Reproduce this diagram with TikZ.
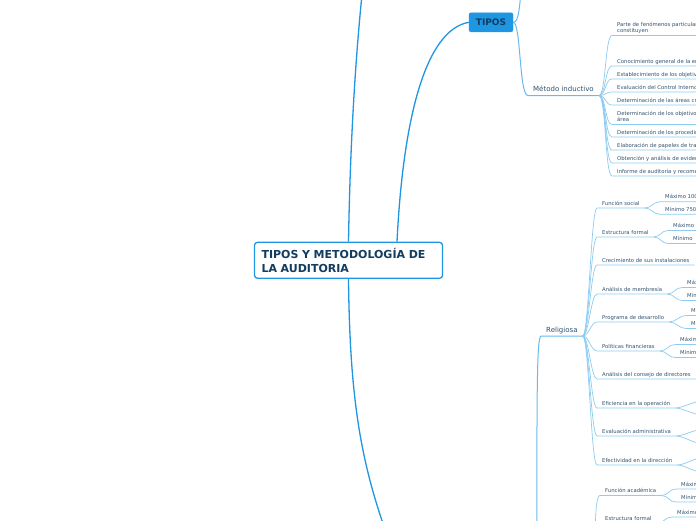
\documentclass[tikz,border=0pt]{standalone}
\usepackage{fontspec}
\setmainfont{DejaVu Sans}
\usepackage{xcolor}
\usepackage{tikz}

\definecolor{mapblue}{RGB}{30,150,226}
\definecolor{branchblue}{RGB}{104,186,238}
\definecolor{linkblue}{RGB}{140,204,242}
\definecolor{titleink}{RGB}{18,60,96}
\definecolor{textink}{RGB}{50,82,112}

\begin{document}
\begin{tikzpicture}[
    x=1pt, y=-1pt,
    root/.style={draw=mapblue,line width=1.3pt,rounded corners=3pt,fill=white,
      minimum width=188pt,minimum height=36pt,text width=174pt,align=left,
      inner sep=0pt,text=titleink,font=\fontsize{11}{14}\selectfont\bfseries},
    typebox/.style={draw=mapblue,fill=mapblue,rounded corners=2pt,
      minimum width=44pt,minimum height=19pt,inner sep=0pt,
      text=titleink,font=\fontsize{9}{10}\selectfont\bfseries},
    topic/.style={anchor=south west,inner xsep=5pt,inner ysep=0pt,text depth=3.8pt,
      text=textink,font=\fontsize{7}{8}\selectfont},
    leaf/.style={anchor=south west,inner xsep=5pt,inner ysep=0pt,text depth=2.6pt,
      align=left,text=textink,font=\fontsize{5.3}{6.2}\selectfont},
    mainline/.style={draw=mapblue,line width=1.3pt},
    branch/.style={draw=branchblue,line width=1pt},
    link/.style={draw=linkblue,line width=0.7pt}
  ]
  \fill[white] (0,0) rectangle (696,520);
  \useasboundingbox (0,0) rectangle (696,520);
  \clip (0,0) rectangle (696,520);

  % main topics
  \node[root] (root) at (348.5,260.3) {TIPOS Y METODOLOGÍA DE\\LA AUDITORIA};
  \node[typebox] (tipos) at (491,22.3) {TIPOS};
  \node[topic] (mi) at (528,95.5) {Método inductivo};
  \node[topic] (rel) at (541,336) {Religiosa};

  % metodo inductivo
  \node[leaf] (m1)  at (612,35.5)  {Parte de fenómenos particulares\\constituyen};
  \node[leaf] (m2)  at (612,66)    {Conocimiento general de la entidad};
  \node[leaf] (m3)  at (612,79)    {Establecimiento de los objetivos};
  \node[leaf] (m4)  at (612,92)    {Evaluación del Control Interno};
  \node[leaf] (m5)  at (612,105)   {Determinación de las áreas críticas};
  \node[leaf] (m6)  at (612,124.5) {Determinación de los objetivos\\área};
  \node[leaf] (m7)  at (612,137)   {Determinación de los procedimientos};
  \node[leaf] (m8)  at (612,150)   {Elaboración de papeles de trabajo};
  \node[leaf] (m9)  at (612,163)   {Obtención y análisis de evidencias};
  \node[leaf] (m10) at (612,176)   {Informe de auditoría y recomendaciones};

  % religiosa
  \node[leaf] (r1)  at (597,208) {Función social};
  \node[leaf] (r2)  at (597,237) {Estructura formal};
  \node[leaf] (r3)  at (597,265) {Crecimiento de sus instalaciones};
  \node[leaf] (r4)  at (597,294) {Análisis de membresía};
  \node[leaf] (r5)  at (597,322) {Programa de desarrollo};
  \node[leaf] (r6)  at (597,351) {Políticas financieras};
  \node[leaf] (r7)  at (597,379) {Análisis del consejo de directores};
  \node[leaf] (r8)  at (597,408) {Eficiencia en la operación};
  \node[leaf] (r9)  at (597,436) {Evaluación administrativa};
  \node[leaf] (r10) at (597,465) {Efectividad en la dirección};

  \node[leaf] (r1a) at (660,201.7) {Máximo 100};
  \node[leaf] (r1b) at (660,214.3) {Mínimo 750};
  \node[leaf] (r2a) at (668,230.5) {Máximo};
  \node[leaf] (r2b) at (668,243.5) {Mínimo};
  \node[leaf] (r4a) at (682,287.5) {Máximo};
  \node[leaf] (r4b) at (682,300.5) {Mínimo};
  \node[leaf] (r5a) at (686,315.5) {Máximo};
  \node[leaf] (r5b) at (686,328.5) {Mínimo};
  \node[leaf] (r6a) at (675,344.5) {Máximo};
  \node[leaf] (r6b) at (675,357.5) {Mínimo};
  \coordinate (r8a)  at (700,401.5);
  \coordinate (r8b)  at (700,414.5);
  \coordinate (r9a)  at (700,430);
  \coordinate (r9b)  at (700,443);
  \coordinate (r10a) at (700,458.5);
  \coordinate (r10b) at (700,471.5);

  % lower group
  \node[leaf] (fa)  at (600,495.5) {Función académica};
  \node[leaf] (fa1) at (676,489)   {Máximo};
  \node[leaf] (fa2) at (676,502)   {Mínimo};
  \node[leaf] (ef)  at (600,523.5) {Estructura formal};
  \node[leaf] (ef1) at (672,517)   {Máximo};

  % off-page ends
  \coordinate (upper)  at (363,-15);
  \coordinate (lower)  at (400,570);
  \coordinate (tipsup) at (522,-15);
  \coordinate (relsrc) at (537,620);
  \coordinate (unisrc) at (595,620);

  % connectors
  \draw[mainline] (root.north) .. controls (350,150) and (355,60) .. (upper);
  \draw[mainline] ([xshift=48.5pt]root.north) .. controls (403,120) and (425,30) .. (tipos.west);
  \draw[mainline] (root.south) .. controls (350,420) and (365,480) .. (lower);

  \draw[branch] (tipos.east) .. controls (519,22.3) and (519,8) .. (tipsup);
  \draw[branch] (tipos.east) .. controls (521,22.3) and (519,95.5) .. (mi.south west) -- (mi.south east);
  \draw[branch] (relsrc) .. controls (537,420) and (536,336) .. (rel.south west) -- (rel.south east);

  \foreach \i in {1,...,10}
    \draw[link] (mi.south east) .. controls +(7,0) and +(-7,0) .. (m\i.south west) -- (m\i.south east);
  \foreach \i in {1,...,10}
    \draw[link] (rel.south east) .. controls +(6,0) and +(-6,0) .. (r\i.south west) -- (r\i.south east);
  \foreach \p/\c in {r1/r1a,r1/r1b,r2/r2a,r2/r2b,r4/r4a,r4/r4b,r5/r5a,r5/r5b,r6/r6a,r6/r6b,fa/fa1,fa/fa2,ef/ef1}
    \draw[link] (\p.south east) .. controls +(7,0) and +(-7,0) .. (\c.south west) -- (\c.south east);
  \foreach \p/\c in {r8/r8a,r8/r8b,r9/r9a,r9/r9b,r10/r10a,r10/r10b}
    \draw[link] (\p.south east) .. controls +(7,0) and +(-7,0) .. (\c);

  \draw[link] (unisrc) .. controls (595,540) and (594,495.5) .. (fa.south west) -- (fa.south east);
  \draw[link] (unisrc) .. controls (595,560) and (594,523.5) .. (ef.south west) -- (ef.south east);
\end{tikzpicture}
\end{document}
